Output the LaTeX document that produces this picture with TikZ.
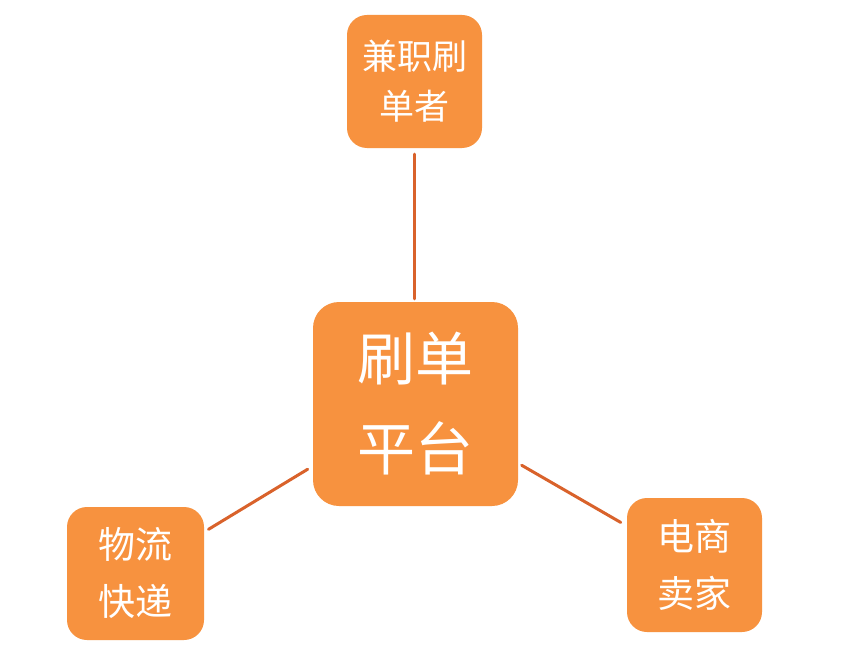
\documentclass[tikz,border=0pt]{standalone}
\usepackage{fontspec}
\newfontfamily\cjk{Noto Sans CJK SC}
\definecolor{boxfill}{HTML}{F7923F}
\definecolor{linkcol}{HTML}{D9622B}
\begin{document}
\begin{tikzpicture}[x=1bp,y=-1bp,
  smallbox/.style={fill=boxfill,draw=none,rounded corners=20bp,minimum width=135bp,minimum height=133bp,inner sep=0pt,align=center,text=white,font=\cjk\fontsize{35bp}{50bp}\selectfont},
  widebox/.style={smallbox,font=\cjk\fontsize{37bp}{57bp}\selectfont},
  bigbox/.style={fill=boxfill,draw=none,rounded corners=26bp,minimum width=205bp,minimum height=204bp,inner sep=0pt,align=center,text=white,font=\cjk\fontsize{58bp}{90bp}\selectfont},
  link/.style={draw=linkcol,line width=3bp,line cap=round}]
\useasboundingbox[fill=white] (0,0) rectangle (844,662);
\node[smallbox] (top) at (414.5,81.5) {兼职刷\\单者};
\node[bigbox] (mid) at (415.5,404) {刷单\\平台};
\node[widebox,minimum width=137bp] (left) at (135.5,573.5) {物流\\快递};
\node[widebox,minimum height=134bp] (right) at (694.5,565) {电商\\卖家};
\draw[link,shorten <=6bp,shorten >=3bp] (top.south) -- (top.south |- mid.north);
\draw[link,shorten <=5bp,shorten >=6bp] (left) -- (mid);
\draw[link,shorten <=4bp,shorten >=7bp] (mid) -- (right);
\end{tikzpicture}
\end{document}
